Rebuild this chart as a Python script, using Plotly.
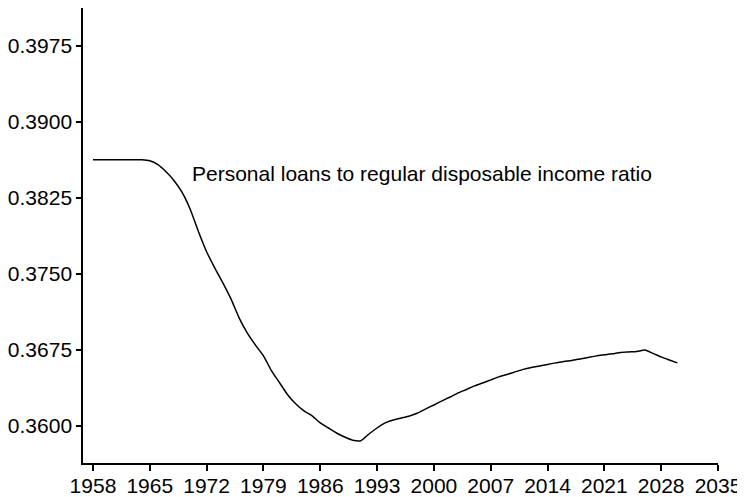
import plotly.graph_objects as go

# Annual series, 1958-2030
years = list(range(1958, 2031))
ratio = [
    0.38625, 0.38625, 0.38625, 0.38625, 0.38625, 0.38625, 0.38625, 0.38615,
    0.38576, 0.38506, 0.38418, 0.38299, 0.38131, 0.37914, 0.37717, 0.37559,
    0.37411, 0.37253, 0.37066, 0.36918, 0.36799, 0.36691, 0.36543, 0.36424,
    0.36306, 0.36217, 0.36148, 0.36099, 0.36030, 0.35980, 0.35931, 0.35891,
    0.35860, 0.35855, 0.35921, 0.35980, 0.36030, 0.36059, 0.36079, 0.36099,
    0.36128, 0.36168, 0.36207, 0.36247, 0.36286, 0.36326, 0.36360, 0.36395,
    0.36424, 0.36454, 0.36484, 0.36508, 0.36533, 0.36558, 0.36577, 0.36592,
    0.36607, 0.36622, 0.36636, 0.36646, 0.36661, 0.36676, 0.36691, 0.36701,
    0.36711, 0.36725, 0.36730, 0.36735, 0.36748, 0.36715, 0.36681, 0.36651,
    0.36622,
]

x_ticks = list(range(1958, 2036, 7))
y_ticks = [0.3600, 0.3675, 0.3750, 0.3825, 0.3900, 0.3975]
label = "Personal loans to regular disposable income ratio"

FONT = "Liberation Sans, Arial, Helvetica, sans-serif"

fig = go.Figure()
fig.add_trace(go.Scatter(
    x=years, y=ratio, mode="lines",
    line=dict(color="black", width=1.5, shape="spline", smoothing=0.6),
    showlegend=False, hoverinfo="x+y"
))

fig.add_annotation(
    x=1970.0, y=0.38492, text=label, showarrow=False,
    xanchor="left", yanchor="middle",
    font=dict(family=FONT, size=21, color="black")
)

# the page body adds an 8px offset, so margins are shifted to compensate
fig.update_layout(
    width=745, height=497,
    margin=dict(l=75, r=35, t=0, b=42),
    paper_bgcolor="white", plot_bgcolor="white",
    font=dict(family=FONT, size=21, color="black"),
)
fig.update_xaxes(
    range=[1956.77, 2035], tickvals=x_ticks,
    showgrid=False, zeroline=False,
    showline=True, linecolor="black", linewidth=1.5,
    ticks="outside", ticklen=6, tickcolor="black", tickwidth=1.5,
    ticklabelstandoff=-3,
)
fig.update_yaxes(
    range=[0.35635, 0.4012], tickvals=y_ticks, tickformat=".4f",
    showgrid=False, zeroline=False,
    showline=True, linecolor="black", linewidth=1.5,
    ticks="outside", ticklen=5, tickcolor="black", tickwidth=1.5,
)

fig.write_html("out.html")
